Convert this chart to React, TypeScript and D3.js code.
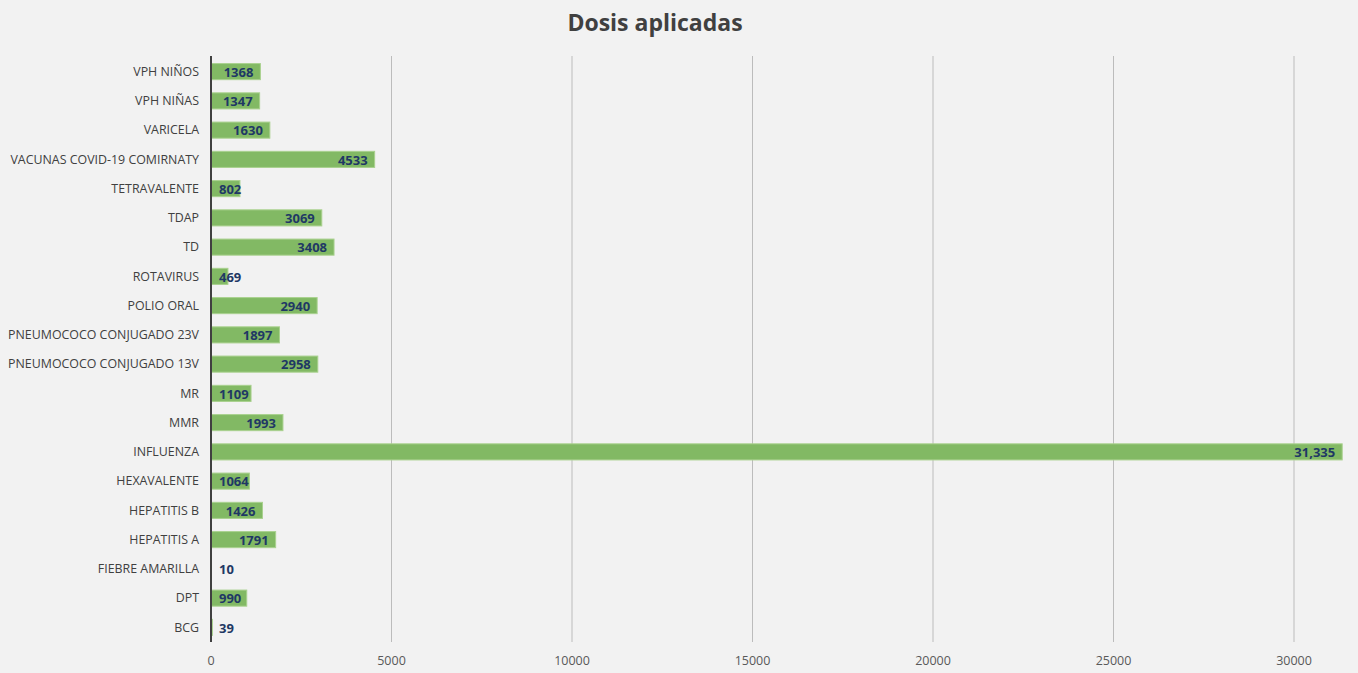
import React, { useEffect } from "react";
import * as d3 from "d3";

const categories = [
  "VPH NIÑOS",
  "VPH NIÑAS",
  "VARICELA",
  "VACUNAS COVID-19 COMIRNATY",
  "TETRAVALENTE",
  "TDAP",
  "TD",
  "ROTAVIRUS",
  "POLIO ORAL",
  "PNEUMOCOCO CONJUGADO 23V",
  "PNEUMOCOCO CONJUGADO 13V",
  "MR",
  "MMR",
  "INFLUENZA",
  "HEXAVALENTE",
  "HEPATITIS B",
  "HEPATITIS A",
  "FIEBRE AMARILLA",
  "DPT",
  "BCG",
];
const values = [1368, 1347, 1630, 4533, 802, 3069, 3408, 469, 2940, 1897, 2958, 1109, 1993, 31335, 1064, 1426, 1791, 10, 990, 39];
const valueLabels = ["1368", "1347", "1630", "4533", "802", "3069", "3408", "469", "2940", "1897", "2958", "1109", "1993", "31,335", "1064", "1426", "1791", "10", "990", "39"];
const xTicks = [0, 5000, 10000, 15000, 20000, 25000, 30000];
const title = "Dosis aplicadas";

const W = 1358;
const H = 673;
const margin = { left: 211, right: 0, top: 57, bottom: 31 };
const FONT = "'Open Sans', 'Noto Sans', sans-serif";

export default function App() {
  useEffect(() => {
    document.body.style.margin = "0";
    document.body.style.background = "#f2f2f2";
  }, []);

  const x = d3.scaleLinear().domain([0, 30000]).range([211, 1294]);
  const y = d3
    .scaleBand<string>()
    .domain(categories)
    .range([margin.top, H - margin.bottom])
    .paddingInner(0.45)
    .paddingOuter(0.225);

  const bh = y.bandwidth();

  return (
    <svg width={W} height={H} style={{ display: "block", background: "#f2f2f2" }} fontFamily={FONT}>
      <rect x={0} y={0} width={W} height={H} fill="#f2f2f2" />
      <text x={655} y={31} textAnchor="middle" fontSize={23} fontWeight={700} fill="#404040">
        {title}
      </text>
      {xTicks.map((t) => (
        <g key={t}>
          {t > 0 && (
            <line x1={x(t)} x2={x(t)} y1={margin.top - 1} y2={H - margin.bottom} stroke="#bcbcbc" strokeWidth={1} />
          )}
          <text x={x(t)} y={665} textAnchor="middle" fontSize={12.5} fill="#595959">
            {t}
          </text>
        </g>
      ))}
      {categories.map((c, i) => {
        const yy = y(c)!;
        const x0 = x(0);
        const x1 = x(values[i]);
        const cy = yy + bh / 2;
        const labelEndInside = x1 - 7;
        const approxW = valueLabels[i].length * 7.8;
        const inside = labelEndInside - approxW >= x0 + 8;
        return (
          <g key={c}>
            <rect x={x0} y={yy} width={Math.max(0, x1 - x0)} height={bh} fill="#82b964" stroke="#a9d18e" strokeWidth={1} />
            <text x={x0 - 12} y={cy} dy="0.35em" textAnchor="end" fontSize={12.4} fill="#404040">
              {c}
            </text>
            <text
              x={inside ? labelEndInside : x0 + 8}
              y={cy}
              dy="0.4em"
              textAnchor={inside ? "end" : "start"}
              fontSize={13}
              fontWeight={700}
              fill="#1f3864"
            >
              {valueLabels[i]}
            </text>
          </g>
        );
      })}
      <line x1={x(0)} x2={x(0)} y1={margin.top - 1} y2={H - margin.bottom} stroke="#404040" strokeWidth={2} />
    </svg>
  );
}
